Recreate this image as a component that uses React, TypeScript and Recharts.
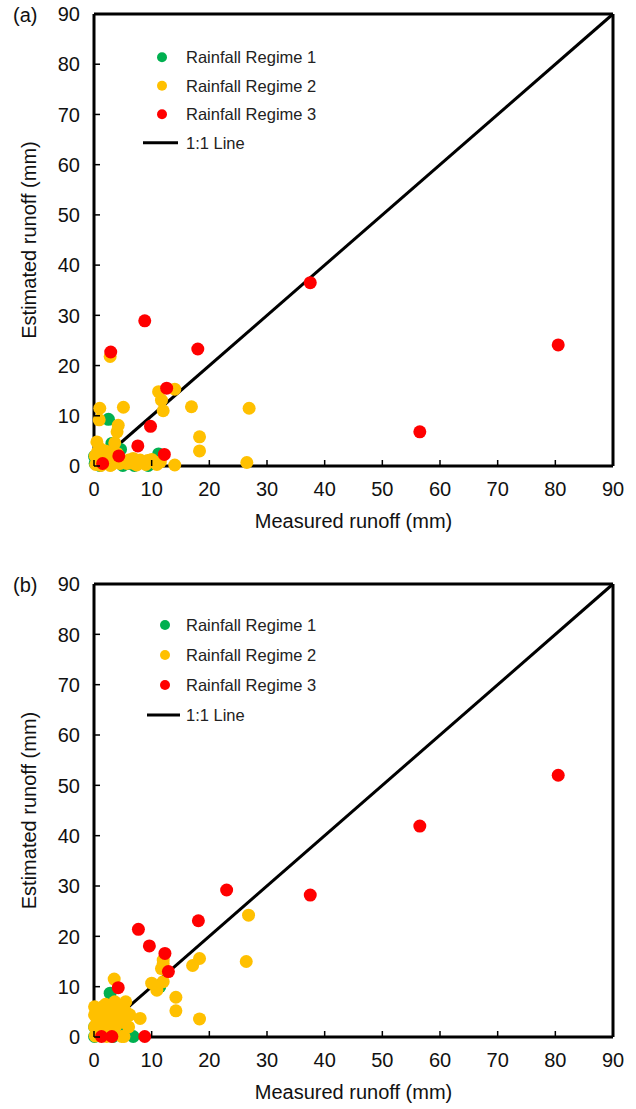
import { ScatterChart, Scatter, XAxis, YAxis, Legend, ReferenceLine } from "recharts";

type Pt = [number, number];

const FONT = "'Liberation Sans', Arial, Helvetica, sans-serif";

const axisTicks = [0, 10, 20, 30, 40, 50, 60, 70, 80, 90];
const seriesNames = ["Rainfall Regime 1", "Rainfall Regime 2", "Rainfall Regime 3", "1:1 Line"];
const seriesColors = ["#00b050", "#ffc000", "#ff0000", "#000000"];
const oneToOne: Pt[] = [[0, 0], [90, 90]];

// (a) measured vs estimated runoff
const regime1A: Pt[] = [
  [0.2, 0.5], [1.0, 0.1], [2.0, 0.8], [2.5, 9.3], [3.1, 4.5], [4.6, 3.3], [3.5, 1.6],
  [5.0, 0.1], [7.0, 0.1], [9.4, 0.1], [11.2, 2.4], [0.1, 1.9], [6.0, 0.5],
];
const regime2A: Pt[] = [
  [2.8, 21.8], [1.0, 11.5], [0.9, 9.2], [5.1, 11.7], [4.2, 8.1], [4.0, 6.8], [3.6, 4.6],
  [0.5, 4.8], [0.6, 2.8], [11.2, 14.8], [11.7, 13.1], [12.0, 11.0], [14.0, 15.3], [16.9, 11.8],
  [18.3, 5.8], [18.3, 3.0], [26.9, 11.5], [26.5, 0.7], [14.0, 0.2], [9.3, 1.1], [10.9, 0.3],
  [10.0, 1.3], [0.3, 0.3], [0.8, 1.2], [1.5, 2.0], [2.5, 0.8], [3.5, 1.2], [4.5, 0.5],
  [5.7, 0.5], [6.5, 0.6], [7.4, 0.2], [2.0, 3.0], [0.2, 2.0], [8.5, 0.6], [5.0, 1.0],
  [3.0, 0.2], [1.2, 0.1], [6.0, 1.2], [2.2, 1.5], [4.0, 2.5], [1.5, 0.5], [2.5, 2.5],
  [3.8, 0.8], [6.8, 1.5], [8.0, 1.2], [9.0, 0.3], [11.5, 0.8], [1.0, 3.5], [2.8, 0.1],
  [4.2, 1.5],
];
const regime3A: Pt[] = [
  [37.5, 36.5], [80.5, 24.1], [56.5, 6.8], [8.8, 28.9], [2.9, 22.7], [18.0, 23.3],
  [12.6, 15.5], [9.8, 7.9], [7.6, 4.0], [4.3, 2.0], [12.2, 2.3], [1.5, 0.5],
];

// (b)
const regime1B: Pt[] = [
  [2.8, 8.7], [2.5, 2.8], [4.2, 2.0], [0.1, 2.0], [0.1, 0.1], [6.8, 0.1], [3.3, 0.1],
  [1.9, 3.0], [4.8, 3.4], [11.4, 10.0],
];
const regime2B: Pt[] = [
  [26.8, 24.2], [26.4, 15.0], [18.3, 15.6], [17.1, 14.2], [14.2, 7.9], [14.2, 5.2], [18.3, 3.6],
  [12.0, 14.6], [11.7, 13.6], [10.0, 10.7], [10.9, 9.3], [12.0, 11.0], [3.5, 11.5], [8.0, 3.7],
  [12.0, 15.3], [0.1, 6.0], [1.0, 5.7], [0.1, 4.4], [1.3, 3.4], [3.6, 7.0], [4.2, 6.0],
  [4.5, 5.0], [2.8, 4.0], [3.9, 2.4], [6.2, 4.4], [6.0, 2.0], [0.1, 2.0], [1.6, 1.1],
  [4.8, 0.1], [0.2, 0.2], [2.0, 6.5], [3.0, 5.5], [5.0, 3.0], [2.5, 1.5], [0.8, 0.5],
  [3.0, 3.5], [1.8, 2.5], [5.5, 7.0], [1.5, 6.0], [2.5, 5.0], [4.0, 4.0], [5.5, 5.0],
  [0.5, 3.0], [2.2, 0.1], [5.2, 0.1], [3.5, 1.5],
];
const regime3B: Pt[] = [
  [80.5, 52.0], [56.5, 41.9], [37.5, 28.2], [23.0, 29.2], [18.1, 23.1], [7.7, 21.4],
  [9.6, 18.1], [12.3, 16.6], [12.9, 13.0], [4.2, 9.8], [1.3, 0.1], [3.1, 0.1], [8.8, 0.1],
];

const toXY = (pts: Pt[]) => pts.map(([x, y]) => ({ x, y }));

function XTick({ x, y, payload }: any) {
  return (
    <g>
      <line x1={x} y1={y} x2={x} y2={y - 6} stroke="#000" strokeWidth={1.5} />
      <text x={x} y={y + 23} dy="0.36em" textAnchor="middle" fontSize={20} fill="#111" fontFamily={FONT}>
        {payload.value}
      </text>
    </g>
  );
}

function YTick({ x, y, payload }: any) {
  return (
    <g>
      <line x1={x} y1={y} x2={x + 6} y2={y} stroke="#000" strokeWidth={1.5} />
      <text x={x - 14} y={y} dy="0.36em" textAnchor="end" fontSize={20} fill="#111" fontFamily={FONT}>
        {payload.value}
      </text>
    </g>
  );
}

interface LegendLayout {
  rowGap: number;
  dotX: number;
  lineX1: number;
  lineX2: number;
  textX: number;
}

function LegendBox({ rowGap, dotX, lineX1, lineX2, textX }: LegendLayout) {
  return (
    <svg width={230} height={rowGap * seriesNames.length}>
      {seriesNames.map((name, i) => {
        const cy = rowGap * i + rowGap / 2;
        const isLine = i === seriesNames.length - 1;
        return (
          <g key={name}>
            {isLine ? (
              <line x1={lineX1} y1={cy} x2={lineX2} y2={cy} stroke={seriesColors[i]} strokeWidth={3} />
            ) : (
              <circle cx={dotX} cy={cy} r={5} fill={seriesColors[i]} />
            )}
            <text x={textX} y={cy} dy="0.36em" fontSize={16.5} fill="#222" fontFamily={FONT}>
              {name}
            </text>
          </g>
        );
      })}
    </svg>
  );
}

interface PanelProps {
  tag: string;
  top: number;
  height: number;
  xAxisHeight: number;
  titleOffset: number;
  legendTop: number;
  legend: LegendLayout;
  r1: Pt[];
  r2: Pt[];
  r3: Pt[];
}

const dot = (color: string) => (p: any) => <circle cx={p.cx} cy={p.cy} r={6.5} fill={color} />;

function Panel({ tag, top, height, xAxisHeight, titleOffset, legendTop, legend, r1, r2, r3 }: PanelProps) {
  return (
    <div style={{ position: "absolute", left: 0, top, width: 636, height }}>
      <div style={{ position: "absolute", left: 13, top: 4, fontSize: 20, fontFamily: FONT, color: "#111" }}>{tag}</div>
      <ScatterChart width={636} height={height} margin={{ top: 14, right: 23, bottom: 0, left: 0 }}>
        <XAxis
          type="number"
          dataKey="x"
          domain={[0, 90]}
          ticks={axisTicks}
          interval={0}
          height={xAxisHeight}
          tickSize={0}
          tickMargin={0}
          tick={<XTick />}
          axisLine={{ stroke: "#000", strokeWidth: 3 }}
          label={{
            value: "Measured runoff (mm)",
            position: "insideBottom",
            offset: titleOffset,
            fontSize: 20,
            fill: "#111",
            fontFamily: FONT,
          }}
        />
        <YAxis
          type="number"
          dataKey="y"
          domain={[0, 90]}
          ticks={axisTicks}
          interval={0}
          width={94}
          tickSize={0}
          tickMargin={0}
          tick={<YTick />}
          axisLine={{ stroke: "#000", strokeWidth: 3 }}
          label={{
            value: "Estimated runoff (mm)",
            angle: -90,
            position: "insideLeft",
            offset: 29,
            fontSize: 20,
            fill: "#111",
            fontFamily: FONT,
            style: { textAnchor: "middle" },
          }}
        />
        <ReferenceLine x={90} stroke="#000" strokeWidth={3} />
        <ReferenceLine y={90} stroke="#000" strokeWidth={3} />
        <Scatter
          name={seriesNames[3]}
          data={toXY(oneToOne)}
          line={{ stroke: "#000", strokeWidth: 3 }}
          shape={() => <g />}
          isAnimationActive={false}
        />
        <Scatter name={seriesNames[0]} data={toXY(r1)} shape={dot(seriesColors[0])} isAnimationActive={false} />
        <Scatter name={seriesNames[1]} data={toXY(r2)} shape={dot(seriesColors[1])} isAnimationActive={false} />
        <Scatter name={seriesNames[2]} data={toXY(r3)} shape={dot(seriesColors[2])} isAnimationActive={false} />
        <Legend
          layout="vertical"
          align="center"
          verticalAlign="middle"
          wrapperStyle={{ left: 140, top: legendTop, width: 230 }}
          content={() => <LegendBox {...legend} />}
        />
      </ScatterChart>
    </div>
  );
}

export default function App() {
  return (
    <div style={{ position: "absolute", left: 0, top: 0, width: 636, height: 1109, background: "#fff" }}>
      <Panel
        tag="(a)"
        top={0}
        height={540}
        xAxisHeight={74}
        titleOffset={12}
        legendTop={43}
        legend={{ rowGap: 28.5, dotX: 22, lineX1: 3, lineX2: 38, textX: 46 }}
        r1={regime1A}
        r2={regime2A}
        r3={regime3A}
      />
      <Panel
        tag="(b)"
        top={570}
        height={539}
        xAxisHeight={72}
        titleOffset={10}
        legendTop={40}
        legend={{ rowGap: 30, dotX: 25, lineX1: 7, lineX2: 40, textX: 46 }}
        r1={regime1B}
        r2={regime2B}
        r3={regime3B}
      />
    </div>
  );
}
